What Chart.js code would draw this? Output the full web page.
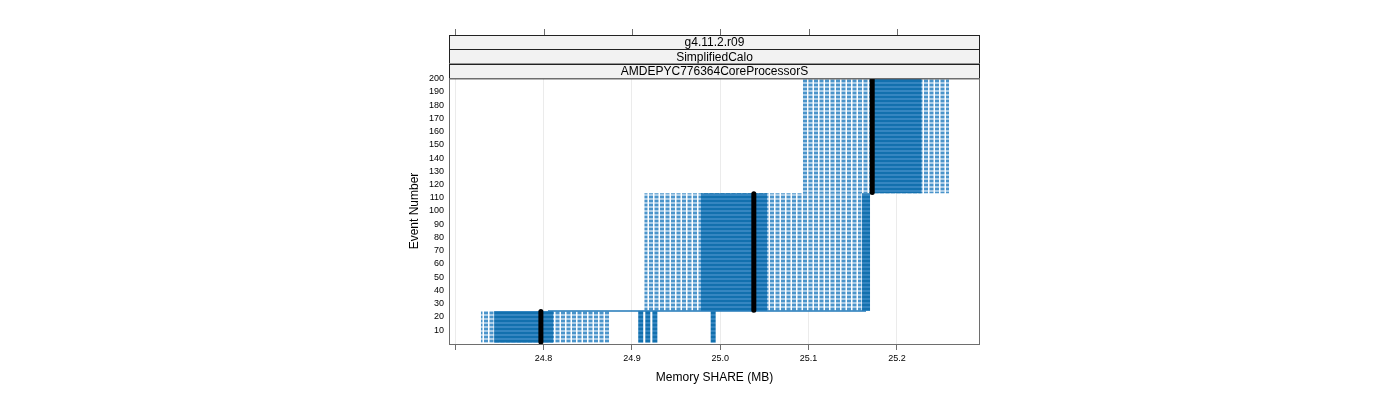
<!DOCTYPE html>
<html>
<head>
<meta charset="utf-8">
<script src="https://cdn.jsdelivr.net/npm/chart.js@4/dist/chart.umd.min.js"></script>
<style>
  html, body { margin: 0; padding: 0; background: #fff; }
</style>
</head>
<body>
<canvas id="memChart" width="1400" height="400"></canvas>
<script>
// strip titles, top to bottom
const stripTitles = ['g4.11.2.r09', 'SimplifiedCalo', 'AMDEPYC776364CoreProcessorS'];

// three phases of the run (event ranges and memory spread, MB)
const eventStart = [1, 25, 114];
const eventEnd = [24, 113, 200];
const shareMin = [24.729, 24.914, 25.093];
const shareMax = [24.875, 25.160, 25.259];
const denseMin = [24.744, 24.978, 25.174];
const denseMax = [24.811, 25.053, 25.228];
const shareMedian = [24.797, 25.038, 25.172];

// isolated memory values, drawn as single columns
const outlierShare = [24.910, 24.918, 24.926, 24.992, 25.165];
const outlierFrom = [1, 1, 1, 1, 25];
const outlierTo = [24, 24, 24, 24, 113];

// jump between phase 1 and phase 2
const jumpShare = [24.805, 25.165];
const jumpEvent = 24.5;

// axis ticks
const xTicks = [24.7, 24.8, 24.9, 25.0, 25.1, 25.2];
const yTicks = [10, 20, 30, 40, 50, 60, 70, 80, 90, 100, 110, 120, 130, 140, 150, 160, 170, 180, 190, 200];

const FONT = "'Liberation Sans', Arial, sans-serif";

// 点云纹理：稀疏区是一列列小圆点，密集区几乎连成一片
function makePattern(w, h, paint) {
    const c = document.createElement('canvas');
    c.width = w;
    c.height = h;
    paint(c.getContext('2d'));
    return c.getContext('2d').createPattern(c, 'repeat');
}

const lightPattern = makePattern(11, 4, g => {
    g.fillStyle = '#4a94ca';
    g.fillRect(0, 0, 4, 2);
    g.fillRect(5.5, 0, 4, 2);
    g.fillStyle = '#a9cce8';
    g.fillRect(0, 2, 4, 2);
    g.fillRect(5.5, 2, 4, 2);
});

const densePattern = makePattern(4, 4, g => {
    g.fillStyle = '#1270ae';
    g.fillRect(0, 0, 4, 2);
    g.fillStyle = '#3586c1';
    g.fillRect(0, 2, 4, 2);
});

const datasets = [];

// filled block between two event numbers
function block(x0, x1, e0, e1, bg, order) {
    datasets.push({
        data: [{ x: x0, y: e1 + 0.5 }, { x: x1, y: e1 + 0.5 }],
        showLine: true,
        borderWidth: 0,
        borderColor: 'rgba(0,0,0,0)',
        backgroundColor: bg,
        fill: { value: e0 - 0.5 },
        pointRadius: 0,
        order: order
    });
}

function vline(x, e0, e1, color, width, cap, order) {
    datasets.push({
        data: [{ x: x, y: e0 }, { x: x, y: e1 }],
        showLine: true,
        borderColor: color,
        borderWidth: width,
        borderCapStyle: cap,
        pointRadius: 0,
        fill: false,
        order: order
    });
}

eventStart.forEach((s, i) => {
    block(shareMin[i], shareMax[i], s, eventEnd[i], lightPattern, 6);
    block(denseMin[i], denseMax[i], s, eventEnd[i], densePattern, 5);
});

outlierShare.forEach((x, i) => {
    vline(x, outlierFrom[i] - 0.5, outlierTo[i] + 0.5, densePattern, i === 4 ? 8 : 5, 'butt', 4);
});

datasets.push({
    data: jumpShare.map(x => ({ x: x, y: jumpEvent })),
    showLine: true,
    borderColor: '#2179b8',
    borderWidth: 1.5,
    pointRadius: 0,
    fill: false,
    order: 3
});

shareMedian.forEach((x, i) => {
    vline(x, eventStart[i], eventEnd[i], '#000000', 5, 'round', 1);
});

// lattice 风格的条带标题 + 面板边框 + 顶部刻度
const latticeFrame = {
    id: 'latticeFrame',
    afterDraw(chart) {
        const { ctx, chartArea: a, scales } = chart;
        ctx.save();

        const stripH = 14.33;
        ctx.font = '12px ' + FONT;
        ctx.textAlign = 'center';
        ctx.textBaseline = 'middle';
        stripTitles.forEach((t, i) => {
            const top = a.top - stripH * (stripTitles.length - i);
            ctx.fillStyle = '#f2f2f2';
            ctx.fillRect(a.left, top, a.right - a.left, stripH);
            ctx.strokeStyle = '#222';
            ctx.lineWidth = 1;
            ctx.strokeRect(a.left + 0.5, Math.round(top) + 0.5, a.right - a.left - 1, stripH);
            ctx.fillStyle = '#000';
            ctx.fillText(t, (a.left + a.right) / 2, top + stripH / 2 + 1);
        });

        ctx.strokeStyle = '#6e6e6e';
        ctx.lineWidth = 1;
        ctx.strokeRect(a.left + 0.5, a.top + 0.5, a.right - a.left - 1, a.bottom - a.top);

        const stripTop = a.top - stripH * stripTitles.length;
        xTicks.forEach(v => {
            const px = Math.round(scales.x.getPixelForValue(v)) + 0.5;
            ctx.beginPath();
            ctx.moveTo(px, stripTop);
            ctx.lineTo(px, stripTop - 6);
            ctx.stroke();
        });
        ctx.restore();
    }
};

new Chart(document.getElementById('memChart'), {
    type: 'scatter',
    data: { datasets: datasets },
    plugins: [latticeFrame],
    options: {
        responsive: false,
        devicePixelRatio: 1,
        animation: false,
        layout: { padding: { left: 403, right: 420, top: 78, bottom: 11 } },
        plugins: {
            legend: { display: false },
            tooltip: { enabled: false }
        },
        scales: {
            x: {
                type: 'linear',
                min: 24.693,
                max: 25.294,
                afterBuildTicks: s => { s.ticks = xTicks.map(v => ({ value: v })); },
                afterFit: s => { s.height = 45; },
                border: { display: false },
                grid: { color: '#ebebeb', tickColor: '#6e6e6e', tickLength: 6, drawTicks: true },
                ticks: {
                    autoSkip: false,
                    maxRotation: 0,
                    padding: 3,
                    color: '#000',
                    font: { family: FONT, size: 9 },
                    callback: v => (v < 24.75 ? '' : v.toFixed(1))
                },
                title: {
                    display: true,
                    text: 'Memory SHARE (MB)',
                    color: '#000',
                    font: { family: FONT, size: 12 },
                    padding: { top: 4, bottom: 4 }
                }
            },
            y: {
                type: 'linear',
                min: -0.5,
                max: 200.5,
                afterBuildTicks: s => { s.ticks = yTicks.map(v => ({ value: v })); },
                afterFit: s => { s.width = 46; },
                border: { display: false },
                grid: { display: false, drawTicks: false },
                ticks: {
                    autoSkip: false,
                    padding: 5,
                    color: '#000',
                    font: { family: FONT, size: 9 }
                },
                title: {
                    display: true,
                    text: 'Event Number',
                    color: '#000',
                    font: { family: FONT, size: 12 },
                    padding: { top: 4, bottom: 4 }
                }
            }
        }
    }
});
</script>
</body>
</html>
